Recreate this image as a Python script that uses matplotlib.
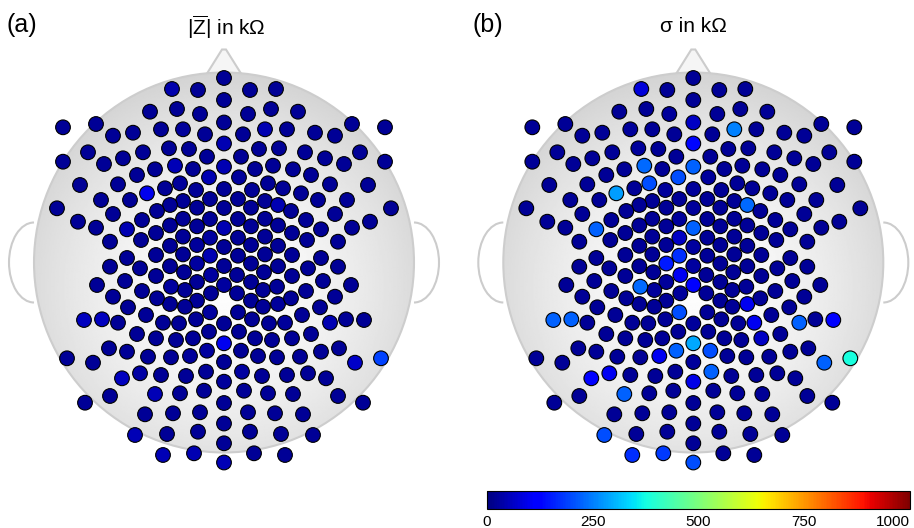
import numpy as np
import matplotlib
matplotlib.use("Agg")
import matplotlib.pyplot as plt
from matplotlib.patches import Circle, Arc, Polygon
from matplotlib.colors import Normalize
from matplotlib.cm import ScalarMappable

plt.rcParams['font.family'] = ['Liberation Sans', 'DejaVu Sans']
plt.rcParams['mathtext.fontset'] = 'custom'
plt.rcParams['mathtext.rm'] = 'Liberation Sans'

# Electrode layout (flattened, head radius = 190 units, y up)
# left hemisphere
x_left = [-52, -26, -74, -47, -24, -161, -128, -111, -91, -63, -41, -19,
          -161, -136, -120, -101, -81, -55, -35, -17, -49, -31, -15, -69,
          -87, -106, -144, -44, -77, -59, -28, -123, -94, -167,
          -14, -14, -14, -14, -13, -13,
          -27, -27, -27, -27, -27, -27,
          -41, -41, -41, -41, -40, -39, -39,
          -54, -54, -54, -54, -53, -54,
          -67, -68, -68, -68, -67,
          -82, -97, -111, -128, -146,
          -114, -83, -97, -114, -84, -127, -99, -82, -111,
          -14, -28, -45, -61, -78, -96, -106, -122, -140,
          -87, -68, -48, -31, -15,
          -17, -34, -53, -76, -97, -115, -157, -131,
          -102, -84, -63, -38, -18,
          -20, -44, -69, -114, -139,
          -79, -51, -24,
          -26, -57, -89,
          -30, -61]
y_left = [173.5, 172.5, 150.8, 153.5, 148.5, 135.2, 138.5, 126.8, 129.8, 133.2, 133.2, 128.2,
          100.8, 110.2, 98.5, 104.2, 110.2, 114.2, 113.5, 105.8, 96.8, 93.5, 85.2, 93.2,
          87.5, 78.2, 77.5, 79.2, 69.2, 74.2, 72.5, 62.5, 62.5, 54.2,
          63.5, 43.5, 24.8, 6.8, -12.5, -30.8,
          54.8, 36.2, 17.5, -1.0, -19.5, -38.2,
          61.5, 43.7, 25.9, 8.1, -9.7, -27.5, -44.2,
          57.5, 37.1, 16.7, -3.7, -24.2, -41.5,
          51.5, 29.5, 7.5, -13.5, -35.8,
          42.5, 33.2, 48.5, 34.8, 40.8,
          20.8, 22.5, 4.5, -4.2, -5.8, -22.5, -18.5, -28.5, -34.2,
          -49.8, -56.8, -60.8, -60.2, -52.5, -44.8, -60.2, -56.8, -57.5,
          -71.5, -75.8, -77.5, -75.8, -69.2,
          -88.2, -93.5, -94.8, -94.2, -89.2, -85.8, -95.8, -100.2,
          -115.8, -110.8, -112.5, -113.5, -109.2,
          -128.2, -130.8, -131.5, -133.5, -140.2,
          -151.8, -150.8, -149.8,
          -169.2, -171.5, -172.5,
          -190.8, -192.5]
zmean_left = [40, 20, 20, 20, 20, 20, 20, 20, 20, 20, 25, 20,
              20, 20, 20, 20, 20, 20, 20, 20, 50, 20, 45, 20,
              20, 20, 20, 25, 95, 20, 20, 20, 20, 20,
              20, 20, 30, 45, 30, 20,
              20, 20, 25, 30, 20, 20,
              20, 20, 20, 20, 20, 20, 20,
              20, 20, 20, 20, 30, 20,
              20, 20, 20, 20, 20,
              20, 45, 20, 20, 20,
              20, 20, 20, 20, 20, 20, 20, 20, 20,
              30, 20, 20, 20, 20, 20, 20, 55, 55,
              20, 20, 20, 20, 20,
              30, 25, 20, 20, 20, 20, 20, 20,
              55, 35, 20, 20, 20,
              20, 20, 50, 20, 20,
              20, 20, 20,
              20, 20, 50,
              45, 50]
sigma_left = [80, 20, 20, 20, 25, 20, 20, 20, 20, 25, 20, 20,
              20, 20, 20, 20, 20, 25, 20, 20, 230, 20, 200, 20,
              20, 20, 20, 200, 280, 20, 25, 20, 20, 20,
              20, 25, 60, 170, 100, 25,
              20, 20, 20, 150, 25, 20,
              20, 20, 20, 20, 20, 25, 20,
              20, 20, 20, 20, 230, 20,
              20, 20, 20, 20, 20,
              20, 220, 20, 20, 20,
              20, 20, 20, 20, 20, 20, 20, 20, 20,
              200, 20, 20, 20, 20, 20, 20, 220, 220,
              20, 20, 20, 20, 20,
              220, 100, 20, 20, 20, 20, 20, 20,
              110, 100, 20, 20, 20,
              20, 20, 220, 20, 20,
              20, 20, 20,
              20, 20, 200,
              180, 170]

# midline
x_mid = [0] * 19
y_mid = [184.5, 162.5, 140, 119, 95.8, 73.5, 54.5, 34.5, 15.5, -3.5, -22.5,
         -61, -80.8, -99.5, -119.2, -140.5, -161, -180.8, -200]
zmean_mid = [20, 20, 20, 45, 45, 20, 20, 45, 20, 20, 30,
             20, 100, 20, 25, 20, 20, 20, 50]
sigma_mid = [20, 20, 60, 130, 220, 25, 25, 220, 30, 30, 110,
             25, 290, 25, 90, 20, 20, 20, 200]

# right hemisphere
x_right = [52, 26, 74, 47, 24, 161, 128, 111, 91, 63, 41, 19,
           161, 136, 120, 101, 81, 55, 35, 17, 49, 31, 15, 69,
           87, 106, 144, 44, 77, 59, 28, 123, 94, 167,
           14, 14, 14, 14, 13, 13,
           27, 27, 27, 27, 27, 27,
           41, 41, 41, 41, 40, 39, 39,
           54, 54, 54, 54, 53, 54,
           67, 68, 68, 68, 67,
           82, 97, 111, 128, 146,
           114, 83, 97, 114, 84, 127, 99, 82, 111,
           14, 28, 45, 61, 78, 96, 106, 122, 140,
           87, 68, 48, 31, 15,
           17, 34, 53, 76, 97, 115, 157, 131,
           102, 84, 63, 38, 18,
           20, 44, 69, 114, 139,
           79, 51, 24,
           26, 57, 89,
           30, 61]
y_right = list(y_left)
zmean_right = [20, 20, 20, 20, 20, 20, 20, 20, 20, 20, 45, 20,
               20, 20, 20, 20, 20, 20, 20, 20, 20, 20, 25, 20,
               20, 20, 20, 20, 20, 20, 20, 20, 20, 20,
               20, 20, 20, 20, 20, 20,
               20, 20, 20, 20, 20, 20,
               20, 20, 20, 20, 20, 20, 20,
               45, 20, 20, 20, 20, 25,
               20, 20, 20, 20, 20,
               20, 20, 20, 20, 20,
               20, 20, 20, 20, 20, 20, 20, 20, 20,
               20, 20, 20, 25, 20, 20, 45, 20, 20,
               20, 20, 20, 20, 20,
               20, 20, 20, 20, 20, 20, 190, 65,
               20, 20, 20, 20, 30,
               20, 20, 20, 20, 20,
               20, 20, 20,
               20, 20, 20,
               20, 20]
sigma_right = [20, 20, 20, 20, 20, 20, 20, 20, 20, 20, 250, 20,
               20, 20, 20, 20, 20, 20, 20, 20, 20, 20, 25, 20,
               20, 20, 20, 20, 20, 20, 20, 20, 20, 20,
               20, 20, 20, 20, 20, 20,
               20, 20, 20, 20, 20, 20,
               20, 20, 20, 20, 20, 20, 20,
               230, 20, 20, 20, 20, 100,
               20, 20, 20, 20, 20,
               20, 20, 20, 20, 20,
               20, 20, 20, 20, 20, 20, 20, 20, 20,
               20, 20, 20, 100, 20, 20, 220, 20, 110,
               20, 60, 20, 20, 20,
               200, 20, 20, 20, 20, 20, 380, 220,
               20, 20, 20, 20, 220,
               20, 20, 20, 20, 20,
               20, 20, 20,
               20, 20, 20,
               20, 20]

elec_x = np.array(x_left + x_mid + x_right, dtype=float)
elec_y = np.array(y_left + y_mid + y_right, dtype=float)
z_mean = np.array(zmean_left + zmean_mid + zmean_right, dtype=float)
z_std = np.array(sigma_left + sigma_mid + sigma_right, dtype=float)

head_r = 190
cmap = plt.get_cmap('jet')
norm = Normalize(vmin=0, vmax=1000)

W, H = 914, 528
fig = plt.figure(figsize=(W / 100, H / 100), dpi=100)


def draw_head(ax, values):
    # nose and ears
    nose = Polygon([(-17, 189), (-2, 213), (2, 213), (17, 189)], closed=True,
                   facecolor='#f5f5f5', edgecolor='#cccccc', lw=1.5, zorder=0)
    ax.add_patch(nose)
    ax.add_patch(Arc((-head_r, 0), 50, 80, theta1=90, theta2=270,
                     color='#cccccc', lw=1.5, zorder=0))
    ax.add_patch(Arc((head_r, 0), 50, 80, theta1=-90, theta2=90,
                     color='#cccccc', lw=1.5, zorder=0))
    # shaded head disc
    gx, gy = np.meshgrid(np.linspace(-head_r, head_r, 300),
                         np.linspace(-head_r, head_r, 300))
    rr = np.hypot(gx, gy + 25) / head_r
    shade = 0.99 - 0.13 * np.clip(rr, 0, 1.2) ** 1.8
    disc = Circle((0, 0), head_r, transform=ax.transData)
    im = ax.imshow(shade, extent=[-head_r, head_r, -head_r, head_r],
                   origin='lower', cmap='gray', vmin=0, vmax=1, zorder=1)
    im.set_clip_path(disc)
    ax.add_patch(Circle((0, 0), head_r, facecolor='none', edgecolor='#cdcdcd',
                        lw=1.5, zorder=2))
    ax.scatter(elec_x, elec_y, c=values, cmap=cmap, norm=norm, s=112,
               edgecolors='black', linewidths=0.8, zorder=3)
    ax.set_xlim(-220, 220)
    ax.set_ylim(-225, 225)
    ax.set_aspect('equal')
    ax.axis('off')


cx_left, cx_right, cy = 224, 693.3, 265.5
ax1 = fig.add_axes([(cx_left - 220) / W, (cy - 225) / H, 440 / W, 450 / H])
ax2 = fig.add_axes([(cx_right - 220) / W, (cy - 225) / H, 440 / W, 450 / H])
draw_head(ax1, z_mean)
draw_head(ax2, z_std)

fig.text(7 / W, 1 - 25 / H, '(a)', fontsize=18, ha='left', va='center')
fig.text(473 / W, 1 - 25 / H, '(b)', fontsize=18, ha='left', va='center')
fig.text(226 / W, 1 - 27 / H, r'$|\overline{\mathrm{Z}}|$ in kΩ', fontsize=15,
         ha='center', va='center')
fig.text(693 / W, 1 - 27 / H, 'σ in kΩ', fontsize=15, ha='center', va='center')

# colorbar
cax = fig.add_axes([487 / W, 19 / H, 423 / W, 18 / H])
cb = fig.colorbar(ScalarMappable(norm=norm, cmap=cmap), cax=cax,
                  orientation='horizontal', ticks=[0, 250, 500, 750, 1000])
cb.outline.set_linewidth(0.8)
cax.tick_params(length=0, pad=4, labelsize=11)
labels = cax.get_xticklabels()
labels[-1].set_ha('right')

fig.savefig('out.png', dpi=100)
